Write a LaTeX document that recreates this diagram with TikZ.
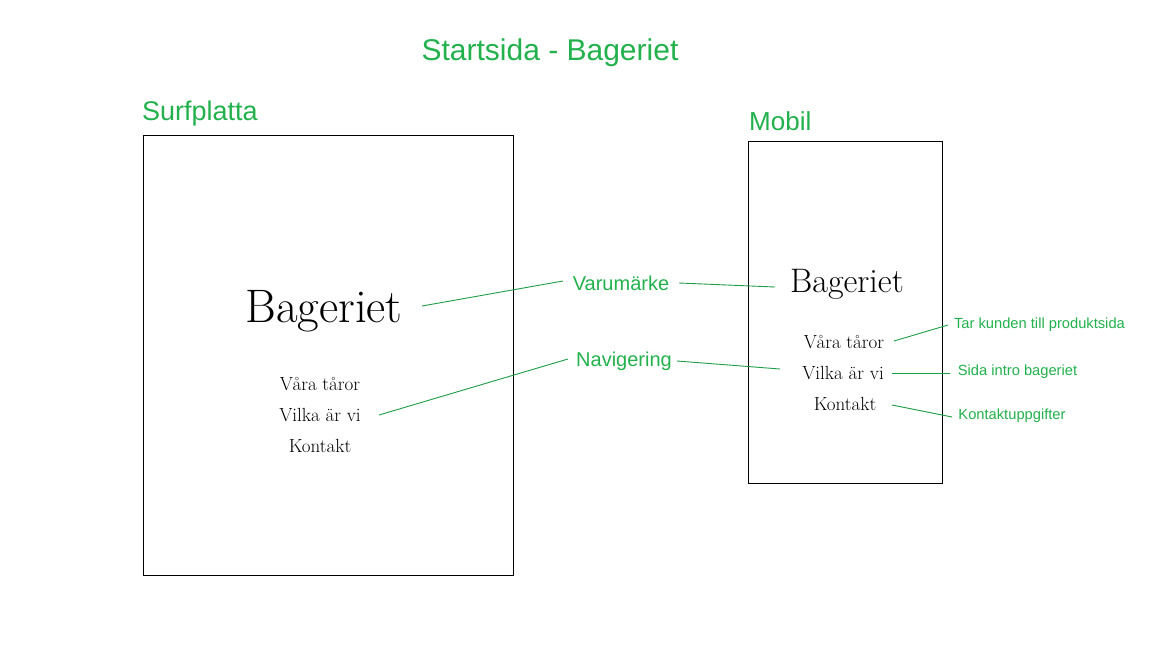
\documentclass[tikz,border=0pt]{standalone}
\usepackage{fontspec}
\newfontfamily\arialf{Liberation Sans}
\usetikzlibrary{calc}
\definecolor{pg}{HTML}{22B14C}
\definecolor{lg}{HTML}{1E9E46}
\tikzset{
  gtext/.style={text=pg, font=\arialf, inner sep=0pt},
  frame/.style={draw=black, line width=1pt, inner sep=0pt, anchor=north west},
  brand/.style={text=black, inner sep=0pt},
  menu/.style={text=black, inner sep=0pt, font=\fontsize{19}{19}\selectfont},
  conn/.style={draw=lg, line width=0.9pt}
}
\begin{document}
\begin{tikzpicture}[x=1pt,y=-1pt]
\useasboundingbox[fill=white] (0,0) rectangle (1152,648);
% headings
\node[gtext, anchor=base, font=\arialf\fontsize{30}{30}\selectfont] (title) at (550,60) {Startsida - Bageriet};
\node[gtext, anchor=base west, font=\arialf\fontsize{27}{27}\selectfont] (surf) at (142,120) {Surfplatta};
\node[gtext, anchor=base west, font=\arialf\fontsize{26}{26}\selectfont] (mob) at (749,130) {Mobil};
% frames
\node[frame, minimum width=370pt, minimum height=440pt] (tab) at (143,135) {};
\node[frame, minimum width=194pt, minimum height=342pt] (phone) at (748,141) {};
% tablet content
\node[brand, font=\fontsize{47}{47}\selectfont] (bl) at (324,311) {Bageriet};
\node[menu] (lv1) at (320,384) {Våra tåror};
\node[menu] (lv2) at (320,415) {Vilka är vi};
\node[menu] (lv3) at (320,446) {Kontakt};
% phone content
\node[brand, font=\fontsize{34}{34}\selectfont] (br) at (847,284) {Bageriet};
\node[menu] (rv1) at (844,342) {Våra tåror};
\node[menu] (rv2) at (843,373) {Vilka är vi};
\node[menu] (rv3) at (845,404) {Kontakt};
% labels
\node[gtext, font=\arialf\fontsize{20}{20}\selectfont] (varu) at (621,283) {Varumärke};
\node[gtext, font=\arialf\fontsize{20}{20}\selectfont] (navi) at (624,361) {Navigering};
\node[gtext, font=\arialf\fontsize{14.7}{14.7}\selectfont] (tar) at (1039.5,325) {Tar kunden till produktsida};
\node[gtext, font=\arialf\fontsize{14.7}{14.7}\selectfont] (sida) at (1017.5,372) {Sida intro bageriet};
\node[gtext, font=\arialf\fontsize{14.7}{14.7}\selectfont] (kont) at (1012,416) {Kontaktuppgifter};
% connectors
\draw[conn] ($(bl.center)+(98,-5)$) -- ($(varu.center)+(-58,-2)$);
\draw[conn] ($(varu.center)+(58,0)$) -- ($(br.center)+(-72,3)$);
\draw[conn] ($(lv2.center)+(59,0)$) -- ($(navi.center)+(-56,-2)$);
\draw[conn] ($(navi.center)+(53,0)$) -- ($(rv2.center)+(-63,-4)$);
\draw[conn] ($(rv1.center)+(50,-1)$) -- ($(tar.center)+(-91.5,0)$);
\draw[conn] ($(rv2.center)+(49,0)$) -- ($(sida.center)+(-67.5,1)$);
\draw[conn] ($(rv3.center)+(47,1)$) -- ($(kont.center)+(-60,1)$);
\end{tikzpicture}
\end{document}
